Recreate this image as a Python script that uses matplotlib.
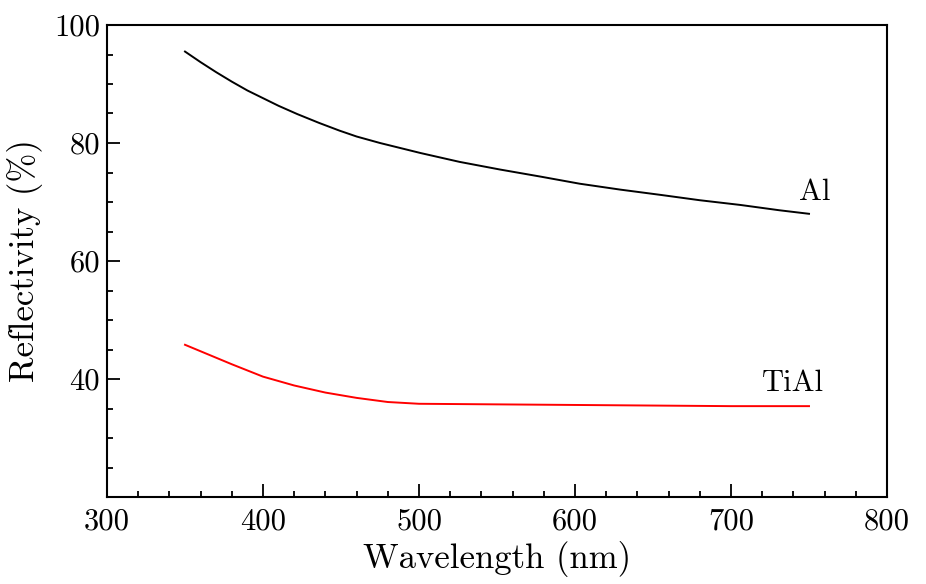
import matplotlib
matplotlib.use("Agg")
import matplotlib.pyplot as plt
from matplotlib.ticker import MultipleLocator

plt.rcParams['font.family'] = ['cmr10', 'DejaVu Serif']
plt.rcParams['mathtext.fontset'] = 'cm'
plt.rcParams['axes.unicode_minus'] = False
plt.rcParams['axes.formatter.use_mathtext'] = False

wl_al = [350, 360, 370, 380, 390, 400, 410, 422, 436, 449, 460, 475, 501, 526, 552, 578, 603, 629, 655, 680, 706, 731, 750]
r_al = [95.5, 93.7, 92.0, 90.4, 88.9, 87.6, 86.3, 84.9, 83.4, 82.1, 81.1, 80.0, 78.3, 76.8, 75.5, 74.3, 73.1, 72.1, 71.2, 70.3, 69.5, 68.6, 68.0]

wl_tial = [350, 360, 380, 400, 420, 440, 460, 480, 500, 550, 600, 650, 700, 750]
r_tial = [45.8, 44.7, 42.5, 40.4, 38.9, 37.7, 36.8, 36.1, 35.8, 35.7, 35.6, 35.5, 35.4, 35.4]

xticks = [300, 400, 500, 600, 700, 800]
yticks = [40, 60, 80, 100]

fig = plt.figure(figsize=(9.26, 5.84), dpi=100)
ax = fig.add_axes([107/926, 1-497/584, 780/926, 472/584])

ax.plot(wl_al, r_al, color='black', lw=1.4)
ax.plot(wl_tial, r_tial, color='#ff0000', lw=1.4)

ax.set_xlim(300, 800)
ax.set_ylim(20, 100)
ax.set_xticks(xticks)
ax.set_yticks(yticks)
ax.xaxis.set_minor_locator(MultipleLocator(20))
ax.yaxis.set_minor_locator(MultipleLocator(5))
ax.tick_params(which='both', direction='in', top=False, right=False, width=1.3, labelsize=22)
ax.tick_params(axis='x', which='major', length=9.5, pad=8)
ax.tick_params(axis='y', which='major', length=9.5, pad=5)
ax.tick_params(which='minor', length=4.5)
for s in ax.spines.values():
    s.set_linewidth(1.5)

ax.set_xlabel('Wavelength (nm)', fontsize=25, labelpad=4)
ax.set_ylabel('Reflectivity (%)', fontsize=25, labelpad=8)

ax.text(753.8, 71.7, 'Al', fontsize=22, ha='center', va='center')
ax.text(739.7, 39.3, 'TiAl', fontsize=22, ha='center', va='center')

fig.savefig('out.png', dpi=100)
